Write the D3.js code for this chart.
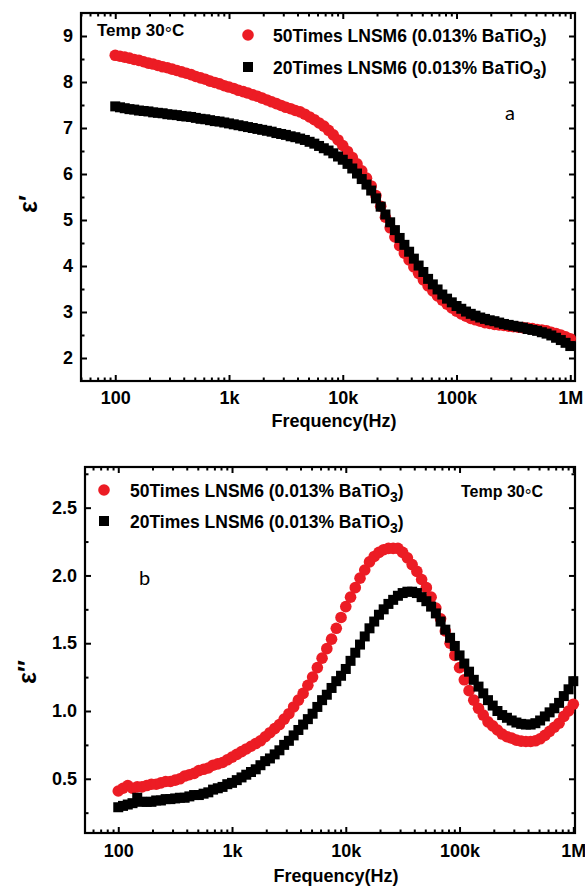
<!DOCTYPE html>
<html>
<head>
<meta charset="utf-8">
<script src="https://cdn.jsdelivr.net/npm/d3@7"></script>
<style>
body { margin: 0; background: #fff; }
svg text { font-family: "Liberation Sans", Arial, sans-serif; fill: #000; }
.axis line { stroke: #000; stroke-width: 2; }
.axis path { display: none; }
.axis text { font-size: 18px; font-weight: bold; }
</style>
</head>
<body>
<svg id="chart" width="585" height="889"></svg>
<script>
// measurement grid (Hz), same for both panels
var freq = [100, 110.1, 121.2, 133.4, 146.8, 161.6, 177.8, 195.7, 215.4, 237.1, 261, 287.3, 316.2, 348.1, 383.1, 421.7, 464.2, 510.9, 562.3, 619, 681.3, 749.9, 825.4, 908.5,
    1000, 1101, 1212, 1334, 1468, 1616, 1778, 1957, 2154, 2371, 2610, 2873, 3162, 3481, 3831, 4217, 4642, 5109, 5623, 6190, 6813, 7499, 8254, 9085,
    10000, 11010, 12120, 13340, 14680, 16160, 17780, 19570, 21540, 23710, 26100, 28730, 31620, 34810, 38310, 42170, 46420, 51090, 56230, 61900, 68130, 74990, 82540, 90850,
    100000, 110100, 121200, 133400, 146800, 161600, 177800, 195700, 215400, 237100, 261000, 287300, 316200, 348100, 383100, 421700, 464200, 510900, 562300, 619000, 681300, 749900, 825400, 908500,
    1000000]

// panel a : eps'
var real50 = [8.58, 8.56, 8.54, 8.52, 8.49, 8.47, 8.44, 8.41, 8.39, 8.36, 8.33, 8.31, 8.28, 8.25, 8.22, 8.19, 8.16, 8.12, 8.09, 8.06, 8.02, 7.99, 7.96, 7.92,
    7.89, 7.86, 7.82, 7.79, 7.76, 7.72, 7.69, 7.65, 7.61, 7.57, 7.53, 7.49, 7.45, 7.42, 7.38, 7.35, 7.30, 7.24, 7.18, 7.11, 7.04, 6.95, 6.85, 6.74,
    6.62, 6.49, 6.36, 6.22, 6.07, 5.91, 5.74, 5.53, 5.30, 5.06, 4.83, 4.63, 4.44, 4.28, 4.13, 3.98, 3.84, 3.70, 3.57, 3.46, 3.35, 3.26, 3.17, 3.09,
    3.02, 2.96, 2.91, 2.86, 2.83, 2.80, 2.77, 2.75, 2.73, 2.72, 2.71, 2.69, 2.68, 2.67, 2.66, 2.65, 2.64, 2.62, 2.61, 2.59, 2.56, 2.53, 2.50, 2.46,
    2.42]
var real20 = [7.47, 7.45, 7.43, 7.41, 7.40, 7.38, 7.37, 7.36, 7.34, 7.33, 7.32, 7.30, 7.29, 7.28, 7.26, 7.25, 7.24, 7.22, 7.20, 7.19, 7.17, 7.15, 7.14, 7.12,
    7.10, 7.08, 7.06, 7.04, 7.02, 7.00, 6.98, 6.96, 6.94, 6.92, 6.89, 6.87, 6.85, 6.82, 6.80, 6.77, 6.74, 6.70, 6.66, 6.61, 6.56, 6.51, 6.45, 6.38,
    6.31, 6.22, 6.12, 6.01, 5.89, 5.77, 5.64, 5.47, 5.29, 5.12, 4.95, 4.78, 4.61, 4.46, 4.31, 4.16, 4.01, 3.87, 3.72, 3.60, 3.49, 3.38, 3.29, 3.21,
    3.13, 3.07, 3.01, 2.96, 2.92, 2.88, 2.85, 2.82, 2.80, 2.77, 2.74, 2.72, 2.70, 2.68, 2.66, 2.63, 2.61, 2.59, 2.56, 2.53, 2.49, 2.44, 2.39, 2.33,
    2.26]

// panel b : eps''
var imag50 = [0.41, 0.43, 0.45, 0.43, 0.44, 0.44, 0.45, 0.46, 0.46, 0.47, 0.48, 0.48, 0.49, 0.50, 0.52, 0.53, 0.54, 0.56, 0.57, 0.58, 0.60, 0.61, 0.62, 0.64,
    0.66, 0.68, 0.70, 0.72, 0.74, 0.76, 0.78, 0.81, 0.84, 0.87, 0.90, 0.94, 0.98, 1.03, 1.08, 1.13, 1.19, 1.25, 1.32, 1.39, 1.46, 1.53, 1.61, 1.69,
    1.77, 1.84, 1.91, 1.98, 2.04, 2.10, 2.14, 2.17, 2.19, 2.20, 2.20, 2.20, 2.17, 2.13, 2.08, 2.03, 1.97, 1.91, 1.84, 1.76, 1.68, 1.59, 1.50, 1.41,
    1.32, 1.23, 1.15, 1.08, 1.02, 0.97, 0.92, 0.89, 0.86, 0.83, 0.81, 0.80, 0.785, 0.778, 0.775, 0.775, 0.78, 0.795, 0.82, 0.85, 0.88, 0.91, 0.96, 1.00,
    1.05]
var imag20 = [0.29, 0.30, 0.31, 0.32, 0.36, 0.33, 0.33, 0.33, 0.34, 0.34, 0.35, 0.35, 0.355, 0.36, 0.36, 0.37, 0.38, 0.38, 0.39, 0.40, 0.42, 0.43, 0.44, 0.46,
    0.47, 0.49, 0.51, 0.53, 0.55, 0.57, 0.60, 0.63, 0.65, 0.68, 0.71, 0.75, 0.78, 0.82, 0.86, 0.90, 0.94, 0.98, 1.03, 1.08, 1.12, 1.17, 1.22, 1.26,
    1.31, 1.37, 1.43, 1.49, 1.55, 1.61, 1.66, 1.71, 1.75, 1.79, 1.82, 1.85, 1.87, 1.88, 1.88, 1.87, 1.84, 1.81, 1.77, 1.72, 1.66, 1.60, 1.54, 1.48,
    1.41, 1.35, 1.29, 1.23, 1.18, 1.13, 1.08, 1.04, 1.00, 0.97, 0.95, 0.93, 0.915, 0.905, 0.90, 0.90, 0.91, 0.93, 0.96, 0.99, 1.02, 1.06, 1.11, 1.16,
    1.22]

var freqTicks = [100, 1e3, 1e4, 1e5, 1e6]
var freqTickLabels = ['100', '1k', '10k', '100k', '1M']
var realTicks = [2, 3, 4, 5, 6, 7, 8, 9]
var imagTicks = [0.5, 1.0, 1.5, 2.0, 2.5]
var seriesNames = ['50Times LNSM6 (0.013% BaTiO', '20Times LNSM6 (0.013% BaTiO']

var RED = '#ec1c24'
var svg = d3.select('#chart')

function drawPanel(p) {
    var x = d3.scaleLog().domain(p.xdom).range([p.left, p.right])
    var y = d3.scaleLinear().domain(p.ydom).range([p.bottom, p.top])
    var g = svg.append('g')

    var xMinor = x.ticks().filter(function(d) { return freqTicks.indexOf(d) < 0 })

    // bottom / top
    g.append('g').attr('class', 'axis').attr('transform', 'translate(0,' + p.bottom + ')')
        .call(d3.axisBottom(x).tickValues(freqTicks).tickFormat(function(d, i) { return freqTickLabels[i] })
            .tickSize(-6).tickSizeOuter(0).tickPadding(p.xpad))
    g.append('g').attr('class', 'axis').attr('transform', 'translate(0,' + p.bottom + ')')
        .call(d3.axisBottom(x).tickValues(xMinor).tickFormat('').tickSize(-3.5).tickSizeOuter(0))
    g.append('g').attr('class', 'axis').attr('transform', 'translate(0,' + p.top + ')')
        .call(d3.axisTop(x).tickValues(freqTicks).tickFormat('').tickSize(-6).tickSizeOuter(0))
    g.append('g').attr('class', 'axis').attr('transform', 'translate(0,' + p.top + ')')
        .call(d3.axisTop(x).tickValues(xMinor).tickFormat('').tickSize(-3.5).tickSizeOuter(0))

    // left / right
    g.append('g').attr('class', 'axis').attr('transform', 'translate(' + p.left + ',0)')
        .call(d3.axisLeft(y).tickValues(p.yticks).tickFormat(p.yfmt).tickSize(-6).tickSizeOuter(0).tickPadding(8))
    g.append('g').attr('class', 'axis').attr('transform', 'translate(' + p.left + ',0)')
        .call(d3.axisLeft(y).tickValues(p.yminor).tickFormat('').tickSize(-3.5).tickSizeOuter(0))
    g.append('g').attr('class', 'axis').attr('transform', 'translate(' + p.right + ',0)')
        .call(d3.axisRight(y).tickValues(p.yticks).tickFormat('').tickSize(-6).tickSizeOuter(0))
    g.append('g').attr('class', 'axis').attr('transform', 'translate(' + p.right + ',0)')
        .call(d3.axisRight(y).tickValues(p.yminor).tickFormat('').tickSize(-3.5).tickSizeOuter(0))

    g.append('rect')
        .attr('x', p.left).attr('y', p.top)
        .attr('width', p.right - p.left).attr('height', p.bottom - p.top)
        .attr('fill', 'none').attr('stroke', '#000').attr('stroke-width', 2.2)

    // red circles first, black squares on top
    g.append('g').selectAll('circle')
        .data(freq.map(function(f, i) { return [f, p.s50[i]] }))
        .enter().append('circle')
        .attr('cx', function(d) { return x(d[0]) })
        .attr('cy', function(d) { return y(d[1]) })
        .attr('r', 5.8)
        .attr('fill', RED)
    g.append('g').selectAll('rect')
        .data(freq.map(function(f, i) { return [f, p.s20[i]] }))
        .enter().append('rect')
        .attr('x', function(d) { return x(d[0]) - 5 })
        .attr('y', function(d) { return y(d[1]) - 5 })
        .attr('width', 10).attr('height', 10)
        .attr('fill', '#000')

    // axis titles
    g.append('text')
        .attr('x', (p.left + p.right) / 2 + 6).attr('y', p.xlabY)
        .attr('text-anchor', 'middle')
        .style('font-size', '18px').style('font-weight', 'bold')
        .text('Frequency(Hz)')
    g.append('text')
        .attr('transform', 'translate(' + p.ylabX + ',' + p.ylabY + ') rotate(-90)')
        .attr('text-anchor', 'middle')
        .style('font-size', '25px').style('font-weight', 'bold')
        .text(p.ylab)

    // legend
    var lg = g.append('g')
    lg.append('circle').attr('cx', p.legX).attr('cy', p.legY).attr('r', 5.8).attr('fill', RED)
    lg.append('rect').attr('x', p.legX - 5).attr('y', p.legY + p.legDy - 5)
        .attr('width', 10).attr('height', 10).attr('fill', '#000')
    seriesNames.forEach(function(name, i) {
        var t = lg.append('text')
            .attr('x', p.legTextX).attr('y', p.legY + 6.5 + i * p.legDy)
            .style('font-size', '17.5px').style('font-weight', 'bold')
        t.append('tspan').text(name)
        t.append('tspan').attr('dy', 5).style('font-size', '14px').text('3')
        t.append('tspan').attr('dy', -5).text(')')
    })

    var tt = g.append('text')
        .attr('x', p.tempX).attr('y', p.tempY)
        .style('font-size', p.tempSize + 'px').style('font-weight', 'bold')
    tt.append('tspan').text('Temp 30')
    tt.append('tspan').attr('dy', 4).style('font-weight', 'normal').style('font-size', (p.tempSize + 1) + 'px').text('\u00b0')
    tt.append('tspan').attr('dy', -4).text('C')

    g.append('text')
        .attr('x', p.tagX).attr('y', p.tagY)
        .style('font-family', 'Lato, "Open Sans", sans-serif').style('font-size', '20px')
        .text(p.tag)
}

drawPanel({
    left: 81, right: 575, top: 13, bottom: 381,
    xdom: [50, 1.1e6], ydom: [1.5, 9.5],
    yticks: realTicks, yminor: d3.range(2.5, 9.5, 1), yfmt: d3.format('d'),
    xpad: 10, xlabY: 427, ylab: '\u03b5\u2032', ylabX: 37, ylabY: 204,
    s50: real50, s20: real20,
    legX: 248, legY: 35, legDy: 32, legTextX: 273,
    tempX: 97, tempY: 36, tempSize: 17,
    tag: 'a', tagX: 505, tagY: 120
})

drawPanel({
    left: 85, right: 575, top: 467, bottom: 833,
    xdom: [51, 1.035e6], ydom: [0.1, 2.8],
    yticks: imagTicks, yminor: d3.range(0.25, 2.8, 0.5), yfmt: d3.format('.1f'),
    xpad: 11, xlabY: 882, ylab: '\u03b5\u2032\u2032', ylabX: 36, ylabY: 672,
    s50: imag50, s20: imag20,
    legX: 104, legY: 490, legDy: 31, legTextX: 130,
    tempX: 461, tempY: 497, tempSize: 16,
    tag: 'b', tagX: 139, tagY: 585
})
</script>
</body>
</html>
